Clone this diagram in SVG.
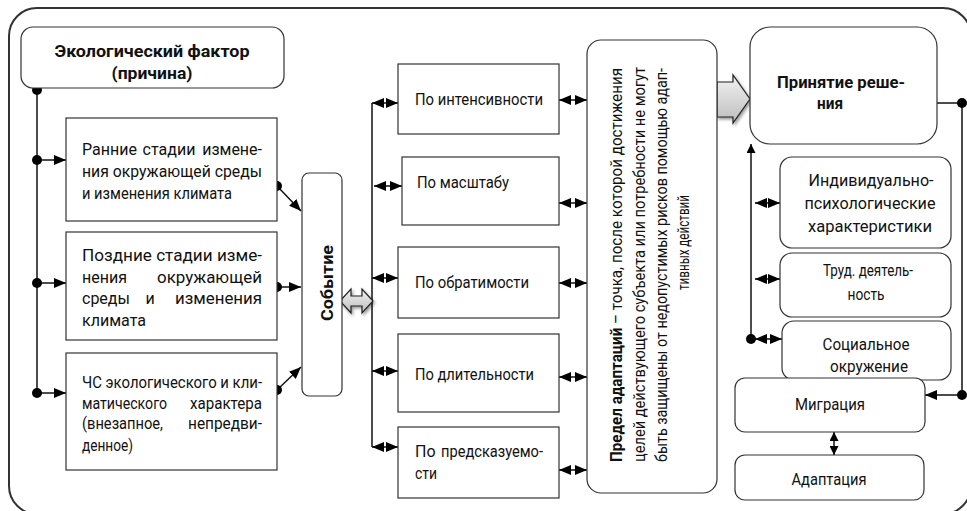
<svg xmlns="http://www.w3.org/2000/svg" width="967" height="511" viewBox="0 0 967 511">
<defs>
<style>
.t{font-family:Roboto,"Noto Sans","Liberation Sans",sans-serif;font-size:16px;fill:#111}
.b{font-weight:bold}
.e{text-anchor:end}
.m{text-anchor:middle}
.box{fill:#fff;stroke:#333;stroke-width:1.2}
.ln{fill:none;stroke:#111;stroke-width:1.5}
.dot{fill:#000}
.ga{fill:url(#gg);stroke:#222;stroke-width:1.2;filter:url(#sh)}
</style>
<marker id="ah" viewBox="0 0 12 10" refX="12" refY="5" markerWidth="12" markerHeight="10" markerUnits="userSpaceOnUse" orient="auto-start-reverse"><path d="M0,0 L12,5 L0,10 z" fill="#000"/></marker>
<marker id="as" viewBox="0 0 9 9" refX="9" refY="4.5" markerWidth="9" markerHeight="9" markerUnits="userSpaceOnUse" orient="auto-start-reverse"><path d="M0,0 L9,4.5 L0,9 z" fill="#000"/></marker>
<linearGradient id="gg" x1="0" y1="0" x2="0" y2="1"><stop offset="0" stop-color="#f2f2f2"/><stop offset="1" stop-color="#bdbdbd"/></linearGradient>
<filter id="sh" x="-30%" y="-30%" width="160%" height="160%"><feDropShadow dx="1.5" dy="2" stdDeviation="1.8" flood-opacity="0.4"/></filter>
</defs>
<rect x="9" y="8" width="962" height="506" rx="28" fill="#fff" stroke="#333" stroke-width="2"/>

<g id="connectors">
<line class="ln" x1="37" y1="90" x2="37" y2="393"/>
<line class="ln" x1="37" y1="160" x2="66" y2="160" marker-end="url(#ah)"/>
<line class="ln" x1="37" y1="283" x2="66" y2="283" marker-end="url(#ah)"/>
<line class="ln" x1="37" y1="393" x2="66" y2="393" marker-end="url(#ah)"/>
<line class="ln" x1="277" y1="186" x2="301" y2="211" marker-end="url(#ah)"/>
<line class="ln" x1="277" y1="287" x2="301" y2="287" marker-end="url(#ah)"/>
<line class="ln" x1="277" y1="390" x2="301" y2="367" marker-end="url(#ah)"/>
<circle class="dot" cx="37" cy="90" r="5"/>
<circle class="dot" cx="37" cy="160" r="5"/>
<circle class="dot" cx="37" cy="283" r="5"/>
<circle class="dot" cx="37" cy="393" r="5"/>
<circle class="dot" cx="277" cy="186" r="5"/>
<circle class="dot" cx="277" cy="287" r="5"/>
<circle class="dot" cx="277" cy="390" r="5"/>
<line class="ln" x1="372" y1="103" x2="372" y2="447"/>
<line class="ln" x1="372" y1="103" x2="398" y2="103" marker-start="url(#ah)" marker-end="url(#ah)"/>
<line class="ln" x1="374" y1="186" x2="402" y2="186" marker-start="url(#ah)" marker-end="url(#ah)"/>
<line class="ln" x1="372" y1="278" x2="398" y2="278" marker-start="url(#ah)" marker-end="url(#ah)"/>
<line class="ln" x1="372" y1="371" x2="398" y2="371" marker-start="url(#ah)" marker-end="url(#ah)"/>
<line class="ln" x1="372" y1="447" x2="398" y2="447" marker-start="url(#ah)" marker-end="url(#ah)"/>
<line class="ln" x1="559" y1="100" x2="587" y2="100" marker-start="url(#ah)" marker-end="url(#ah)"/>
<line class="ln" x1="559" y1="203" x2="587" y2="203" marker-start="url(#ah)" marker-end="url(#ah)"/>
<line class="ln" x1="559" y1="283" x2="587" y2="283" marker-start="url(#ah)" marker-end="url(#ah)"/>
<line class="ln" x1="559" y1="377" x2="587" y2="377" marker-start="url(#ah)" marker-end="url(#ah)"/>
<line class="ln" x1="559" y1="470" x2="587" y2="470" marker-start="url(#ah)" marker-end="url(#ah)"/>
<line class="ln" x1="751" y1="339" x2="751" y2="144" marker-end="url(#as)"/>
<line class="ln" x1="755" y1="203" x2="780" y2="203" marker-start="url(#ah)" marker-end="url(#ah)"/>
<line class="ln" x1="755" y1="279" x2="780" y2="279" marker-start="url(#ah)" marker-end="url(#ah)"/>
<line class="ln" x1="755" y1="339" x2="782" y2="339" marker-start="url(#ah)" marker-end="url(#ah)"/>
<circle class="dot" cx="751" cy="339" r="5"/>
<path class="ln" d="M937,103 H962 V395 H925" marker-end="url(#ah)"/>
<circle class="dot" cx="962" cy="103" r="5"/>
<circle class="dot" cx="962" cy="395" r="5"/>
<line class="ln" x1="834" y1="432" x2="834" y2="455" marker-start="url(#as)" marker-end="url(#as)"/>
<path class="ga" d="M340,301 L351,289 L351,296 L362,296 L362,289 L373,301 L362,313 L362,306 L351,306 L351,313 Z"/>
<path class="ga" d="M717,82 L733,82 L733,75 L750,99 L733,123 L733,117 L717,117 Z"/>
</g>

<g id="n-ecofactor">
<rect class="box" x="21" y="27" width="263" height="61" rx="12"/>
<text class="t b m" font-size="17.5" x="152" y="57" textLength="195" lengthAdjust="spacingAndGlyphs">Экологический фактор</text>
<text class="t b m" font-size="17.5" x="152" y="79" textLength="81" lengthAdjust="spacingAndGlyphs">(причина)</text>
</g>

<g id="n-early">
<rect class="box" x="66" y="118" width="211" height="103"/>
<text class="t" x="82" y="155">Ранние</text>
<text class="t m" x="169" y="155">стадии</text>
<text class="t e" x="262" y="155">измене-</text>
<text class="t" x="82" y="177" textLength="180" lengthAdjust="spacingAndGlyphs">ния окружающей среды</text>
<text class="t" x="82" y="199" textLength="150" lengthAdjust="spacingAndGlyphs">и изменения климата</text>
</g>

<g id="n-late">
<rect class="box" x="66" y="232" width="211" height="108"/>
<text class="t" x="82" y="261" textLength="180" lengthAdjust="spacingAndGlyphs">Поздние стадии изме-</text>
<text class="t" x="82" y="283">нения</text>
<text class="t e" x="262" y="283" textLength="105" lengthAdjust="spacingAndGlyphs">окружающей</text>
<text class="t" x="82" y="304">среды</text>
<text class="t m" x="150" y="304">и</text>
<text class="t e" x="262" y="304" textLength="87" lengthAdjust="spacingAndGlyphs">изменения</text>
<text class="t" x="82" y="326" textLength="64" lengthAdjust="spacingAndGlyphs">климата</text>
</g>

<g id="n-emergency">
<rect class="box" x="66" y="353" width="211" height="117"/>
<text class="t" x="82" y="388" textLength="180" lengthAdjust="spacingAndGlyphs">ЧС экологического и кли-</text>
<text class="t" x="82" y="409" textLength="85" lengthAdjust="spacingAndGlyphs">матического</text>
<text class="t e" x="262" y="409" textLength="72" lengthAdjust="spacingAndGlyphs">характера</text>
<text class="t" x="82" y="429" textLength="81" lengthAdjust="spacingAndGlyphs">(внезапное,</text>
<text class="t e" x="262" y="429" textLength="74" lengthAdjust="spacingAndGlyphs">непредви-</text>
<text class="t" x="82" y="451" textLength="51" lengthAdjust="spacingAndGlyphs">денное)</text>
</g>

<g id="n-event">
<rect class="box" x="302" y="173" width="40" height="223" rx="7"/>
<text class="t b" font-size="17.5" transform="translate(333,321) rotate(-90)" textLength="76" lengthAdjust="spacingAndGlyphs">Событие</text>
</g>

<g id="n-intensity">
<rect class="box" x="398" y="64" width="161" height="70"/>
<text class="t" x="415" y="105" textLength="128" lengthAdjust="spacingAndGlyphs">По интенсивности</text>
</g>
<g id="n-scale">
<rect class="box" x="402" y="157" width="157" height="68"/>
<text class="t" x="417" y="188" textLength="92" lengthAdjust="spacingAndGlyphs">По масштабу</text>
</g>
<g id="n-reversibility">
<rect class="box" x="398" y="247" width="161" height="71"/>
<text class="t" x="415" y="288" textLength="114" lengthAdjust="spacingAndGlyphs">По обратимости</text>
</g>
<g id="n-duration">
<rect class="box" x="398" y="334" width="161" height="78"/>
<text class="t" x="415" y="380" textLength="119" lengthAdjust="spacingAndGlyphs">По длительности</text>
</g>
<g id="n-predictability">
<rect class="box" x="398" y="427" width="161" height="71"/>
<text class="t" x="415" y="457">По</text>
<text class="t e" x="543" y="457" textLength="102" lengthAdjust="spacingAndGlyphs">предсказуемо-</text>
<text class="t" x="415" y="479" textLength="22" lengthAdjust="spacingAndGlyphs">сти</text>
</g>

<g id="n-limit">
<rect class="box" x="587" y="40" width="130" height="453" rx="14"/>
<text class="t" font-size="16.5" transform="translate(622,462) rotate(-90)" textLength="394" lengthAdjust="spacingAndGlyphs"><tspan class="b">Предел адаптаций</tspan> – точка, после которой достижения</text>
<text class="t" font-size="16.5" transform="translate(645,462) rotate(-90)" textLength="395" lengthAdjust="spacingAndGlyphs">целей действующего субъекта или потребности не могут</text>
<text class="t" font-size="16.5" transform="translate(667,462) rotate(-90)" textLength="394" lengthAdjust="spacingAndGlyphs">быть защищены от недопустимых рисков помощью адап-</text>
<text class="t" font-size="16.5" transform="translate(689,290) rotate(-90)" textLength="95" lengthAdjust="spacingAndGlyphs">тивных действий</text>
</g>

<g id="n-decision">
<rect class="box" x="750" y="27" width="187" height="117" rx="20"/>
<text class="t b" font-size="17" x="777" y="88" textLength="128" lengthAdjust="spacingAndGlyphs">Принятие реше-</text>
<text class="t b" font-size="17" x="817" y="109" textLength="26" lengthAdjust="spacingAndGlyphs">ния</text>
</g>

<g id="n-individual">
<rect class="box" x="780" y="157" width="171" height="91" rx="12"/>
<text class="t m" x="871" y="186" textLength="125" lengthAdjust="spacingAndGlyphs">Индивидуально-</text>
<text class="t m" x="870" y="209" textLength="131" lengthAdjust="spacingAndGlyphs">психологические</text>
<text class="t m" x="870" y="232" textLength="124" lengthAdjust="spacingAndGlyphs">характеристики</text>
</g>
<g id="n-work">
<rect class="box" x="780" y="253" width="171" height="64" rx="12"/>
<text class="t m" x="868" y="276" textLength="90" lengthAdjust="spacingAndGlyphs">Труд. деятель-</text>
<text class="t m" x="866" y="300" textLength="37" lengthAdjust="spacingAndGlyphs">ность</text>
</g>
<g id="n-social">
<rect class="box" x="782" y="321" width="169" height="59" rx="12"/>
<text class="t m" x="866" y="350" textLength="87" lengthAdjust="spacingAndGlyphs">Социальное</text>
<text class="t m" x="869" y="372" textLength="78" lengthAdjust="spacingAndGlyphs">окружение</text>
</g>
<g id="n-migration">
<rect class="box" x="735" y="378" width="190" height="54" rx="10"/>
<text class="t m" x="830" y="410" textLength="70" lengthAdjust="spacingAndGlyphs">Миграция</text>
</g>
<g id="n-adaptation">
<rect class="box" x="735" y="455" width="189" height="45" rx="10"/>
<text class="t m" x="829" y="485" textLength="75" lengthAdjust="spacingAndGlyphs">Адаптация</text>
</g>
</svg>
